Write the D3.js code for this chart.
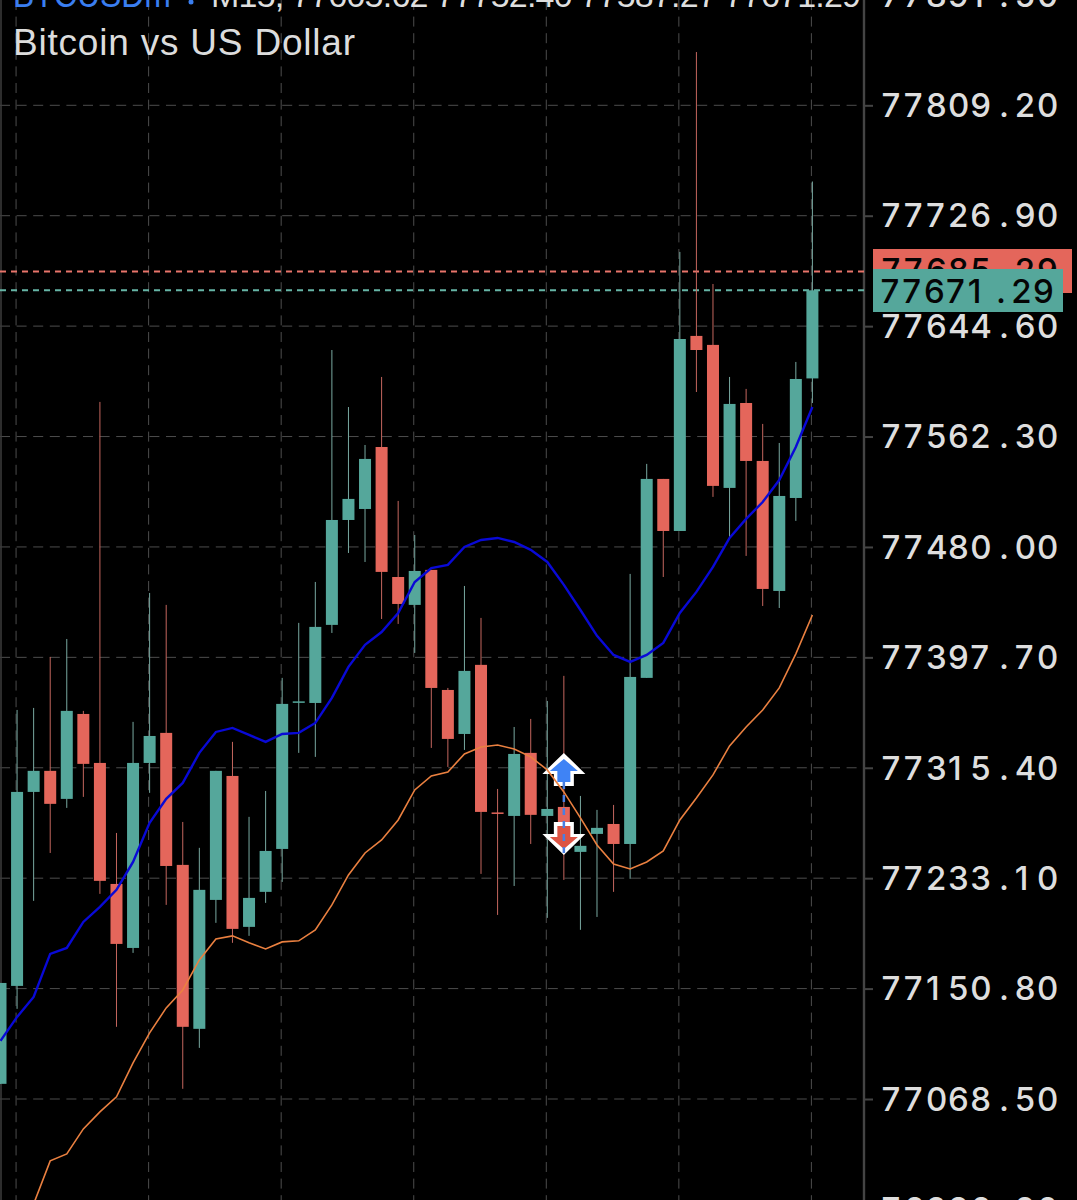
<!DOCTYPE html>
<html>
<head>
<meta charset="utf-8">
<title>Bitcoin vs US Dollar</title>
<script src="https://cdn.jsdelivr.net/npm/d3@7"></script>
<style>
  html, body { margin: 0; padding: 0; background: #000; overflow: hidden; }
  svg { display: block; }
</style>
</head>
<body>
<svg id="chart" width="1077" height="1200"></svg>
<script>
// M15 candles, oldest first
const opens = [77079.8,77152.8,77297.4,77313.1,77292.2,77355.5,77319.0,77228.8,77181.1,77319.0,
  77341.4,77243.0,77120.8,77216.9,77309.3,77196.8,77222.9,77254.9,77363.9,77363.7,
  77421.9,77500.1,77508.3,77554.5,77457.6,77436.8,77462.9,77373.4,77340.6,77392.1,
  77282.1,77279.5,77326.5,77279.5,77286.2,77252.7,77266.1,77273.5,77258.6,77382.4,
  77530.7,77491.9,77637.3,77630.6,77524.0,77587.3,77544.1,77447.2,77516.5,77605.62];
const highs = [77155.0,77358.5,77360.0,77398.0,77411.4,77357.8,77588.1,77266.8,77349.6,77445.7,
  77436.8,77275.0,77255.7,77313.1,77334.7,77278.8,77298.1,77382.4,77423.4,77453.9,
  77626.8,77584.3,77556.0,77606.7,77514.3,77488.9,77462.9,77374.9,77450.9,77427.1,
  77299.6,77345.8,77351.8,77365.2,77383.9,77294.4,77284.0,77287.7,77459.9,77541.9,
  77530.7,77699.9,77848.9,77676.0,77606.7,77597.8,77571.7,77557.5,77617.9,77752.40];
const lows = [77079.8,77135.7,77216.2,77251.9,77285.5,77293.7,77221.4,77122.3,77177.4,77296.7,
  77213.2,77076.1,77106.6,77199.8,77184.9,77190.1,77214.7,77230.3,77326.5,77323.5,
  77415.9,77475.5,77468.8,77426.3,77422.6,77401.0,77330.2,77316.0,77328.7,77236.3,
  77205.7,77227.3,77258.6,77203.5,77231.8,77194.6,77204.2,77222.9,77232.6,77382.4,
  77457.6,77491.9,77595.5,77517.3,77487.5,77473.3,77436.0,77434.5,77499.4,77587.27];
const closes = [77155.0,77297.4,77313.1,77288.5,77357.8,77318.3,77231.1,77184.1,77319.0,77339.1,
  77242.2,77122.3,77224.4,77313.1,77195.3,77218.4,77253.4,77363.0,77364.9,77420.4,
  77500.1,77515.8,77545.6,77461.4,77437.5,77462.1,77374.9,77336.9,77387.6,77282.5,
  77281.0,77325.7,77280.3,77284.7,77261.6,77257.2,77270.6,77258.6,77383.1,77530.7,
  77491.9,77635.0,77626.8,77525.5,77586.6,77544.1,77448.7,77518.0,77605.2,77671.29];

// Moving averages, one value per candle
const maBlue = [77111.8,77129.7,77144.6,77176.7,77181.1,77200.5,77211.7,77224.4,77245.2,77274.3,
  77292.2,77304.1,77326.5,77342.1,77345.1,77339.9,77334.7,77340.6,77341.4,77348.8,
  77367.5,77390.6,77407.0,77416.6,77430.8,77453.9,77464.3,77466.6,77480.0,77485.2,
  77486.7,77483.7,77477.8,77468.8,77451.7,77433.0,77413.7,77399.5,77394.3,77399.5,
  77408.5,77430.8,77446.5,77465.1,77486.7,77500.9,77513.5,77529.9,77554.5,77584.3];
const maOrange = [76957.5,76975.4,76990.3,77022.4,77027.6,77046.2,77058.9,77070.1,77095.4,77117.8,
  77136.4,77149.8,77172.2,77187.8,77190.1,77184.9,77180.4,77185.6,77186.4,77194.6,
  77213.2,77235.5,77251.9,77261.6,77276.5,77298.9,77309.3,77312.3,77325.7,77330.9,
  77332.4,77329.4,77323.5,77313.8,77297.4,77278.0,77257.9,77243.7,77240.0,77245.2,
  77253.4,77276.5,77292.9,77310.1,77331.7,77345.8,77358.5,77374.9,77400.3,77429.3];

// Price axis and quotes
const priceTicks = [76986.20,77068.50,77150.80,77233.10,77315.40,77397.70,77480.00,77562.30,77644.60,77726.90,77809.20,77891.50];
const askPrice = 77685.29;
const bidPrice = 77671.29;

// Vertical grid sits every eight candles
const gridCandles = [1,9,17,25,33,41,49];

// Trade markers on one candle
const signalCandle = 34;
const signalBuyPrice = 77326.5;
const signalSellPrice = 77250.4;

const symbolText = "BTCUSDm";
const periodText = "M15, 77605.62 77752.40 77587.27 77671.29";
const titleText = "Bitcoin vs US Dollar";

const TEAL = "#55a79b", RED = "#e4665b";
const LABEL_FONT = "Inter, 'Liberation Sans', sans-serif";

const svg = d3.select("#chart");
const x = d3.scaleLinear().domain([0, opens.length - 1]).range([0.5, 812.4]);
const y = d3.scaleLinear().domain([77068.5, 77809.2]).range([1099, 105.3]);

svg.append("rect").attr("width", 1077).attr("height", 1200).attr("fill", "#000");

// Grid
const grid = svg.append("g").attr("fill", "none").attr("stroke", "#4d4d4d").attr("stroke-width", 1)
  .attr("stroke-dasharray", "10 6.6");
grid.selectAll("line.h").data(priceTicks).join("line").attr("class", "h")
  .attr("x1", 0).attr("x2", 864).attr("y1", d => y(d)).attr("y2", d => y(d));
grid.selectAll("line.v").data(gridCandles).join("line").attr("class", "v")
  .attr("x1", d => x(d) - 1).attr("x2", d => x(d) - 1).attr("y1", 0).attr("y2", 1200);

// Frame lines on both sides of the plot
svg.append("line").attr("x1", 1).attr("x2", 1).attr("y1", 0).attr("y2", 1200)
  .attr("stroke", "#3c3c3c").attr("stroke-width", 1.5);
svg.append("line").attr("x1", 864).attr("x2", 864).attr("y1", 0).attr("y2", 1200)
  .attr("stroke", "#444").attr("stroke-width", 2.4);

// Quote lines
[[askPrice, "#e8746a"], [bidPrice, "#66b5a6"]].forEach(([p, c]) => {
  svg.append("line").attr("x1", 0).attr("x2", 864).attr("y1", y(p)).attr("y2", y(p))
    .attr("stroke", c).attr("stroke-width", 2).attr("stroke-dasharray", "6 5");
});

// Candles
const candles = d3.range(opens.length);
const bodyColor = i => closes[i] >= opens[i] && i !== 30 ? TEAL : RED;

svg.append("g").selectAll("line").data(candles).join("line")
  .attr("x1", i => x(i)).attr("x2", i => x(i))
  .attr("y1", i => y(highs[i])).attr("y2", i => y(lows[i]))
  .attr("stroke", i => bodyColor(i) === TEAL ? "#79a9a1" : "#c4665e")
  .attr("stroke-width", 1);

svg.append("g").selectAll("rect").data(candles).join("rect")
  .attr("x", i => x(i) - 6).attr("width", 12)
  .attr("y", i => y(Math.max(opens[i], closes[i])))
  .attr("height", i => Math.max(1.5, Math.abs(y(opens[i]) - y(closes[i]))))
  .attr("fill", bodyColor);

// Trade markers: arrow outlines in px, measured from the tip
const outer = [[0,0],[21.5,21],[10,21],[10,33],[-10,33],[-10,21],[-21.5,21]];
const inner = [[0,6],[14,18],[6.5,18],[6.5,29],[-6.5,29],[-6.5,18],[-14,18]];
const arrow = (pts, tipX, tipY, dir) =>
  d3.line()(pts.map(([a, b]) => [tipX + a, tipY + dir * b])) + "Z";

const sx = x(signalCandle);
const buyY = y(signalBuyPrice), sellY = y(signalSellPrice);
svg.append("path").attr("d", arrow(outer, sx, buyY, 1)).attr("fill", "#fff");
svg.append("path").attr("d", arrow(inner, sx, buyY, 1)).attr("fill", "#3f83f5");
svg.append("path").attr("d", arrow(outer, sx, sellY, -1)).attr("fill", "#fff");
svg.append("path").attr("d", arrow(inner, sx, sellY, -1)).attr("fill", "#dd5444");
svg.append("line").attr("x1", sx).attr("x2", sx)
  .attr("y1", buyY + 29).attr("y2", sellY - 2)
  .attr("stroke", "#4a7fe2").attr("stroke-width", 2.5).attr("stroke-dasharray", "7 6");

// Moving averages
const maLine = d3.line().x((d, i) => x(i)).y(d => y(d));
svg.append("path").attr("d", maLine(maOrange)).attr("fill", "none")
  .attr("stroke", "#ea8040").attr("stroke-width", 1.6);
svg.append("path").attr("d", maLine(maBlue)).attr("fill", "none")
  .attr("stroke", "#0909d6").attr("stroke-width", 2.4);

// Price labels sit on a fixed pitch, with the point centred in its cell
const pitchX = (start, s, pitch) =>
  Array.from(s, (ch, k) => start + k * pitch + (ch === "." ? 6.5 : 0)).join(" ");

const axis = d3.axisRight(y).tickValues(priceTicks).tickSize(9).tickFormat(d3.format(".2f"));
const axisG = svg.append("g").attr("transform", "translate(864,0)").call(axis);
axisG.select(".domain").remove();
axisG.selectAll(".tick line").attr("stroke", "#444").attr("stroke-width", 2);
axisG.selectAll(".tick text")
  .attr("fill", "#dedede").attr("font-family", LABEL_FONT).attr("font-size", 33).attr("font-weight", 500)
  .attr("text-anchor", "start").attr("dy", "0.34em")
  .attr("x", d => pitchX(17.5, d3.format(".2f")(d), 22.2));

// Quote tags
function quoteTag(price, fill, left, top, w, h, textLeft, baseline, pitch) {
  const s = d3.format(".2f")(price);
  svg.append("rect").attr("x", left).attr("y", top).attr("width", w).attr("height", h).attr("fill", fill);
  svg.append("text").text(s).attr("x", pitchX(textLeft, s, pitch)).attr("y", baseline)
    .attr("fill", "#050505").attr("font-family", LABEL_FONT).attr("font-size", 33).attr("font-weight", 500);
}
quoteTag(askPrice, RED, 873, 249, 199, 44, 881.5, 282, 22.2);
quoteTag(bidPrice, TEAL, 873, 269, 190, 43, 880.5, 303, 21.8);

// Header
svg.append("text").text(symbolText).attr("x", 13).attr("y", 7)
  .attr("fill", "#3a7ef0").attr("font-family", "'Liberation Sans', sans-serif").attr("font-size", 37)
  .attr("textLength", 158).attr("lengthAdjust", "spacingAndGlyphs");
svg.append("circle").attr("cx", 191).attr("cy", 2).attr("r", 2.5).attr("fill", "#3a7ef0");
svg.append("text").text(periodText).attr("x", 211).attr("y", 7)
  .attr("fill", "#dedede").attr("font-family", "'Liberation Sans', sans-serif").attr("font-size", 34)
  .attr("textLength", 650);
svg.append("text").text(titleText).attr("x", 13).attr("y", 55)
  .attr("fill", "#dcdcdc").attr("font-family", "'Liberation Sans', sans-serif").attr("font-size", 37)
  .attr("textLength", 342);
</script>
</body>
</html>
